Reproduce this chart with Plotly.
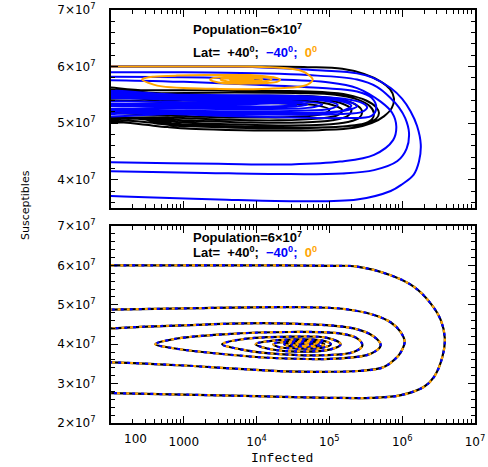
import plotly.graph_objects as go

# ---------------- data (S in units of 10^7, I = number infected) ----------------
# bottom panel: identical trajectory for the three latitudes
spiral_I = [100, 1e3, 1e4, 1e5, 2.4e5, 6.95e5, 1.44e6, 2.47e6, 3.39e6, 3.85e6, 3.57e6, 2.74e6, 2.0e6, 9.3e5, 4e5, 1e5, 1e4, 1e3, 100, 30,
            30, 100, 1e3, 3e4, 1.5e5, 4.1e5, 7e5, 9.5e5, 1.08e6, 9.6e5, 8.6e5, 5.6e5, 2.5e5, 8e4, 2.5e4, 5e3, 1e3, 100, 30,
            30, 100, 250, 1e3, 1.7e4, 2.15e5, 4.1e5, 5.06e5, 3.7e5, 1.43e5, 1.7e4, 2.1e3, 655, 407,
            725, 3.5e3, 2.9e4, 1.43e5, 2.4e5, 2.84e5, 2.15e5, 8.4e4, 1.7e4, 6e3, 3.36e3,
            6e3, 2.9e4, 9.3e4, 1.43e5, 1.04e5, 2.9e4, 1.4e4, 9.7e3,
            1.5e4, 3.5e4, 8e4, 1.05e5, 8e4, 3.5e4, 2e4, 1.7e4,
            2.5e4, 4.5e4, 7.5e4, 8.5e4, 7e4, 4e4, 2.6e4, 2.4e4,
            3e4, 5e4, 7e4, 7e4, 5e4, 3.3e4, 3e4,
            3.8e4, 5.5e4, 6.3e4, 5.5e4, 4e4, 3.6e4, 4.2e4, 5.3e4, 5.6e4, 5e4, 4.4e4, 4.8e4]
spiral_S = [6.00, 6.00, 6.00, 5.99, 5.97, 5.75, 5.46, 5.03, 4.61, 4.15, 3.68, 3.17, 2.92, 2.70, 2.64, 2.64, 2.68, 2.72, 2.76, 2.78,
            4.88, 4.88, 4.91, 4.94, 4.90, 4.74, 4.55, 4.31, 4.06, 3.80, 3.68, 3.42, 3.32, 3.30, 3.31, 3.38, 3.46, 3.54, 3.56,
            4.38, 4.40, 4.44, 4.48, 4.53, 4.40, 4.19, 3.97, 3.76, 3.64, 3.65, 3.79, 3.91, 4.00,
            4.13, 4.25, 4.31, 4.27, 4.15, 3.97, 3.80, 3.72, 3.76, 3.87, 4.00,
            4.12, 4.19, 4.16, 4.00, 3.87, 3.82, 3.89, 4.00,
            4.08, 4.12, 4.09, 4.00, 3.91, 3.89, 3.93, 4.00,
            4.06, 4.08, 4.05, 4.00, 3.94, 3.93, 3.97, 4.00,
            4.04, 4.05, 4.02, 3.98, 3.95, 3.97, 4.00,
            4.03, 4.03, 4.00, 3.97, 3.97, 4.00, 4.02, 4.02, 4.00, 3.98, 3.99, 4.00]

# top panel, latitude +40 (black)
black_I = [100, 1e3, 1e4, 5e4, 1.5e5, 3e5, 5e5, 6.8e5, 7.7e5, 7.2e5, 5.6e5, 3.8e5, 2.2e5, 8e4, 2e4, 4e3, 1.2e3, 600, 300, 150, 30,
           30, 300, 3e3, 2e4, 8e4, 1.8e5, 3.2e5, 4.4e5, 4.8e5, 4.4e5, 3.2e5, 1.8e5, 7e4, 2e4, 5e3, 1.5e3, 700, 400, 200, 30,
           30, 500, 5e3, 4e4, 1.2e5, 2.4e5, 3.6e5, 4.1e5, 3.8e5, 2.8e5, 1.5e5, 5e4, 1e4, 2e3, 700, 400, 250, 30,
           30, 1e3, 1e4, 5e4, 1.2e5, 2.2e5, 2.8e5, 2.6e5, 1.8e5, 8e4, 2e4, 4e3, 800, 200, 30,
           30, 1e3, 1e4, 6e4, 1.4e5, 2e5, 1.8e5, 1.1e5, 4e4, 8e3, 1.5e3, 300, 30,
           30, 1e3, 1e4, 5e4, 1.1e5, 1.5e5, 1.3e5, 7e4, 2e4, 4e3, 600, 30,
           30, 2e3, 2e4, 7e4, 1e5, 8e4, 3e4, 5e3, 800, 30]
black_S = [6.00, 6.00, 6.00, 5.99, 5.96, 5.87, 5.74, 5.60, 5.44, 5.27, 5.12, 5.00, 4.92, 4.88, 4.87, 4.88, 4.90, 4.93, 4.97, 5.01, 5.06,
           5.58, 5.58, 5.58, 5.57, 5.55, 5.50, 5.40, 5.28, 5.18, 5.08, 5.00, 4.95, 4.92, 4.91, 4.92, 4.94, 4.96, 5.00, 5.04, 5.10,
           5.52, 5.53, 5.54, 5.53, 5.50, 5.42, 5.30, 5.17, 5.06, 4.98, 4.94, 4.92, 4.93, 4.96, 4.99, 5.03, 5.08, 5.15,
           5.47, 5.48, 5.49, 5.48, 5.44, 5.34, 5.22, 5.10, 5.02, 4.97, 4.96, 4.98, 5.02, 5.08, 5.12,
           5.42, 5.44, 5.45, 5.43, 5.36, 5.24, 5.13, 5.05, 5.01, 5.01, 5.04, 5.08, 5.14,
           5.38, 5.40, 5.41, 5.39, 5.32, 5.23, 5.14, 5.08, 5.05, 5.06, 5.10, 5.18,
           5.33, 5.35, 5.35, 5.31, 5.24, 5.16, 5.11, 5.10, 5.13, 5.22]

# top panel, latitude -40 (blue)
blue_I = [100, 1e3, 1e4, 3e4, 8e4, 2.4e5, 4e5, 6.95e5, 1e6, 1.3e6, 1.6e6, 1.8e6, 1.7e6, 1.44e6, 1.0e6, 6.95e5, 2.4e5, 3e4, 3e3, 300, 100, 30,
          30, 100, 1e3, 1e4, 5e4, 2.4e5, 4.5e5, 6.95e5, 9e5, 1.1e6, 1.24e6, 1.15e6, 8.6e5, 4.1e5, 1.5e5, 2e4, 2e3, 100, 30,
          30, 100, 1e3, 1e4, 1e5, 2.4e5, 5.06e5, 7.3e5, 8.3e5, 7.5e5, 4.1e5, 1.4e5, 3e4, 3e3, 100, 30,
          30, 100, 1e3, 1e4, 8e4, 2.4e5, 3.8e5, 4.4e5, 3.8e5, 1.5e5, 3e4, 3e3, 300, 30,
          30, 1e3, 1e4, 6e4, 1.6e5, 2.8e5, 3.3e5, 2.8e5, 1.4e5, 3e4, 3e3, 400, 30,
          30, 500, 8e3, 1.8e5, 2.4e5, 1.5e5, 2e4, 1e3, 30,
          30, 1e3, 1e4, 5e4, 1.3e5, 2e5, 1.6e5, 8e4, 1.5e4, 2e3, 300, 30,
          30, 1e3, 1.5e4, 2.5e4, 1e4, 1e3, 30,
          30, 2e3, 2e4, 8e4, 1.3e5, 1e5, 4e4, 5e3, 600, 30,
          30, 3e3, 3e4, 8e4, 5e4, 1e4, 1e3, 30,
          30, 5e3, 3e4, 5e4, 3e4, 5e3, 500, 30,
          30, 3e3, 2e4, 3.5e4, 2e4, 3e3, 30]
blue_S = [6.00, 6.00, 5.99, 5.96, 5.93, 5.88, 5.80, 5.62, 5.43, 5.21, 4.95, 4.62, 4.32, 4.09, 3.92, 3.80, 3.65, 3.62, 3.65, 3.69, 3.71, 3.72,
          5.90, 5.90, 5.90, 5.88, 5.85, 5.77, 5.64, 5.44, 5.28, 5.09, 4.83, 4.55, 4.33, 4.17, 4.11, 4.10, 4.12, 4.15, 4.16,
          5.82, 5.82, 5.81, 5.78, 5.72, 5.62, 5.38, 5.18, 4.94, 4.70, 4.44, 4.32, 4.27, 4.28, 4.31, 4.32,
          5.76, 5.76, 5.73, 5.68, 5.62, 5.56, 5.45, 5.27, 5.13, 5.09, 5.10, 5.13, 5.18, 5.22,
          5.50, 5.50, 5.49, 5.47, 5.43, 5.36, 5.28, 5.20, 5.16, 5.15, 5.16, 5.19, 5.24,
          5.48, 5.46, 5.44, 5.38, 5.30, 5.21, 5.17, 5.17, 5.20,
          5.47, 5.47, 5.47, 5.45, 5.40, 5.31, 5.23, 5.19, 5.18, 5.19, 5.22, 5.27,
          5.45, 5.44, 5.42, 5.37, 5.34, 5.34, 5.40,
          5.44, 5.44, 5.43, 5.40, 5.32, 5.25, 5.22, 5.21, 5.23, 5.29,
          5.41, 5.41, 5.39, 5.33, 5.27, 5.25, 5.26, 5.31,
          5.38, 5.38, 5.36, 5.33, 5.29, 5.28, 5.29, 5.34,
          5.36, 5.36, 5.35, 5.32, 5.30, 5.30, 5.33]

# top panel, latitude 0 (orange)
orange_I = [100, 1e3, 5e3, 1.4e4, 2.6e4, 4e4, 5.2e4, 5.9e4, 5e4, 3.6e4, 1.5e4, 4.9e3, 2e3, 990, 500, 385, 267, 300, 385, 800,
            2e3, 5e3, 8.2e3, 1.3e4, 1.7e4, 2.1e4, 1.9e4, 1.4e4, 8e3, 4.9e3, 3e3, 2.3e3, 2.6e3, 4e3, 7e3, 1.1e4, 1.5e4, 1.6e4,
            1.3e4, 8e3, 5e3, 3.5e3, 3.2e3, 4e3, 6e3, 9e3, 1.2e4, 1.1e4, 8e3, 5.5e3, 4.3e3, 4.5e3, 6e3, 8e3, 9e3, 7.5e3,
            5.5e3, 5e3, 6e3]
orange_S = [6.00, 6.00, 6.00, 5.99, 5.97, 5.93, 5.85, 5.77, 5.68, 5.64, 5.61, 5.60, 5.61, 5.62, 5.65, 5.68, 5.77, 5.80, 5.82, 5.84,
            5.85, 5.85, 5.85, 5.83, 5.81, 5.77, 5.73, 5.71, 5.70, 5.70, 5.72, 5.77, 5.80, 5.82, 5.83, 5.82, 5.80, 5.77,
            5.74, 5.73, 5.73, 5.75, 5.77, 5.79, 5.80, 5.80, 5.78, 5.76, 5.75, 5.75, 5.77, 5.78, 5.79, 5.79, 5.77, 5.76,
            5.76, 5.77, 5.77]

x_tick_vals = [1e2, 1e3, 1e4, 1e5, 1e6, 1e7]
x_tick_text = ["", "1000", "10<sup>4</sup>", "10<sup>5</sup>", "10<sup>6</sup>", "10<sup>7</sup>"]
y_top_vals = [4, 5, 6, 7]
y_bot_vals = [2, 3, 4, 5, 6, 7]

BLUE = "#0000ff"
ORANGE = "#ffa500"

fig = go.Figure()

def line_trace(xs, ys, color, xa, ya, width=2.0, dash="solid"):
    return go.Scatter(x=xs, y=ys, mode="lines", xaxis=xa, yaxis=ya, showlegend=False, hoverinfo="skip",
                      line=dict(color=color, width=width, dash=dash, shape="spline", smoothing=1.0))

fig.add_trace(line_trace(black_I, black_S, "black", "x", "y"))
fig.add_trace(line_trace(blue_I, blue_S, BLUE, "x", "y"))
fig.add_trace(line_trace(orange_I, orange_S, ORANGE, "x", "y"))

fig.add_trace(line_trace(spiral_I, spiral_S, "black", "x2", "y2", width=2.2))
fig.add_trace(line_trace(spiral_I, spiral_S, BLUE, "x2", "y2", width=2.2, dash="0px,3px,3px,3px"))
fig.add_trace(line_trace(spiral_I, spiral_S, ORANGE, "x2", "y2", width=2.2, dash="3px,6px"))

minor_x = [m * 10 ** e for e in range(2, 7) for m in range(2, 10)]
tickfont = dict(family="DejaVu Sans", size=12, color="black")

def xaxis(anchor, labels):
    return dict(type="log", range=[2, 7], domain=[0, 1], anchor=anchor, automargin=False,
                showline=True, linecolor="black", linewidth=2, mirror="allticks",
                ticks="inside", ticklen=7, tickwidth=1.3, tickcolor="black",
                tickmode="array", tickvals=x_tick_vals, ticktext=x_tick_text,
                showticklabels=labels, tickfont=tickfont, ticklabelstandoff=7,
                showgrid=False, zeroline=False,
                minor=dict(ticks="inside", ticklen=4, tickwidth=1, tickcolor="black",
                           tickmode="array", tickvals=minor_x, showgrid=False))

def yaxis(anchor, dom, rng, vals):
    return dict(range=rng, domain=dom, anchor=anchor, automargin=False,
                showline=True, linecolor="black", linewidth=2, mirror="allticks",
                ticks="inside", ticklen=7, tickwidth=1.3, tickcolor="black",
                tickmode="array", tickvals=vals,
                ticktext=[f"{v}×10<sup>7</sup>" for v in vals],
                tickfont=tickfont, ticklabelstandoff=11, showgrid=False, zeroline=False,
                minor=dict(ticks="inside", ticklen=4, tickwidth=1, tickcolor="black",
                           dtick=0.2, showgrid=False))

W, H = 488, 467
L, R, T, B = 111, 13, 10, 44
ph = H - T - B
pw = W - L - R
top_dom = [(H - B - 208) / ph, 1.0]
bot_dom = [0.0, (H - B - 226) / ph]

fig.update_layout(
    width=W, height=H, autosize=False,
    margin=dict(l=L, r=R, t=T, b=B, pad=0, autoexpand=False),
    paper_bgcolor="white", plot_bgcolor="white",
    xaxis=xaxis("y", False), yaxis=yaxis("x", top_dom, [3.5, 7], y_top_vals),
    xaxis2=xaxis("y2", True), yaxis2=yaxis("x2", bot_dom, [2, 7], y_bot_vals),
)

lab_font = dict(family="Liberation Sans", size=13, color="black")
lat_text = ("<b>Lat=\u00a0\u00a0+40<sup>0</sup>;\u00a0\u00a0<span style='color:#0000ff'>−40<sup>0</sup>;</span>"
            "\u00a0\u00a0<span style='color:#ffa500'>0<sup>0</sup></span></b>")
pop_text = "<b>Population=6×10<sup>7</sup></b>"
anns = [
    dict(x=3.10, y=6.66, xref="x", yref="y", text=pop_text),
    dict(x=3.10, y=6.265, xref="x", yref="y", text=lat_text),
    dict(x=3.10, y=6.73, xref="x2", yref="y2", text=pop_text),
    dict(x=3.10, y=6.33, xref="x2", yref="y2", text=lat_text),
]
for a in anns:
    a.update(showarrow=False, xanchor="left", yanchor="middle", font=lab_font)

anns.append(dict(x=(135 - L) / pw, y=(H - B - 439) / ph, xref="paper", yref="paper", text="100",
                 showarrow=False, xanchor="center", yanchor="middle", font=tickfont))
anns.append(dict(x=(282 - L) / pw, y=(H - B - 458) / ph, xref="paper", yref="paper", text="Infected",
                 showarrow=False, xanchor="center", yanchor="middle",
                 font=dict(family="Liberation Mono", size=13, color="black")))
anns.append(dict(x=(25 - L) / pw, y=(H - B - 205) / ph, xref="paper", yref="paper", text="Susceptibles",
                 showarrow=False, xanchor="center", yanchor="middle", textangle=-90,
                 font=dict(family="DejaVu Sans", size=11, color="black")))
fig.update_layout(annotations=anns)

fig.write_html("out.html", config={"displayModeBar": False, "responsive": False},
               post_script="document.body.style.margin='0px';document.body.style.overflow='hidden';")
